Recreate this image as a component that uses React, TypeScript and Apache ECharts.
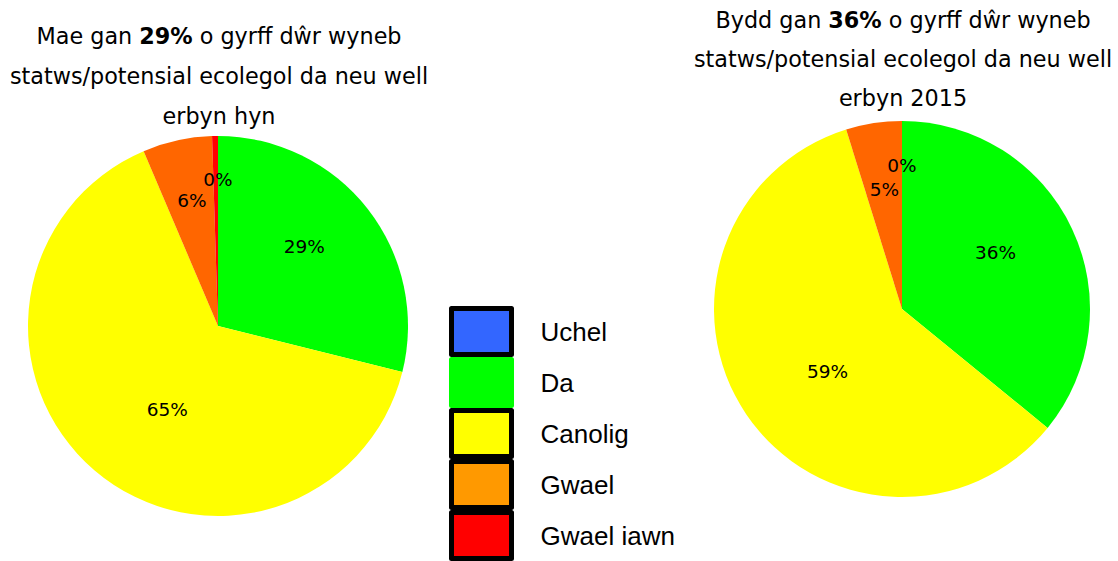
import React, { useEffect, useRef } from "react";
import * as echarts from "echarts";

const categories = ["Uchel", "Da", "Canolig", "Gwael", "Gwael iawn"];
const nowValues = [0, 28.9, 64.7, 5.9, 0.5];
const futureValues = [0, 35.9, 59.3, 4.8, 0];
const sliceColors = ["#3366FF", "#00FF00", "#FFFF00", "#FF6600", "#FF0000"];
const legendColors = ["#3366FF", "#00FF00", "#FFFF00", "#FF9900", "#FF0000"];
const showLabel = [true, true, true, true, false];
const leftOffsets = [[0, -49], [9, -19], [13, 9], [-5, -30], [0, 0]];
const rightOffsets = [[0, -47], [6, -15], [6, 8], [-3, -24], [0, 0]];

const titleFont = "DejaVu Sans";

function buildData(values: number[], offsets: number[][]) {
  return categories.map((name, i) => ({
    name,
    value: values[i],
    itemStyle: { color: sliceColors[i] },
    label: { show: showLabel[i], offset: offsets[i] },
  }));
}

function rich(lh: number) {
  return {
    n: { fontFamily: titleFont, fontSize: 22.3, fontWeight: "normal", color: "#000", lineHeight: lh },
    b: { fontFamily: titleFont, fontSize: 22.3, fontWeight: "bold", color: "#000", lineHeight: lh },
  };
}

export default function App() {
  const ref = useRef<HTMLDivElement>(null);
  useEffect(() => {
    if (!ref.current) return;
    const chart = echarts.init(ref.current, undefined, { renderer: "svg" });
    const labelCfg = {
      position: "inside",
      formatter: (p: any) => Math.round(p.value) + "%",
      color: "#000",
      fontFamily: titleFont,
      fontSize: 18.5,
    };
    chart.setOption({
      animation: false,
      title: [
        {
          text: "{n|Mae gan }{b|29%}{n| o gyrff dŵr wyneb}\n{n|statws/potensial ecolegol da neu well}\n{n|erbyn hyn}",
          left: 219,
          top: 16,
          padding: 0,
          textAlign: "center",
          textStyle: { fontWeight: "normal", rich: rich(40) },
        },
        {
          text: "{n|Bydd gan }{b|36%}{n| o gyrff dŵr wyneb}\n{n|statws/potensial ecolegol da neu well}\n{n|erbyn 2015}",
          left: 903,
          top: 0,
          padding: 0,
          textAlign: "center",
          textStyle: { fontWeight: "normal", rich: rich(39) },
        },
      ],
      legend: {
        orient: "vertical",
        left: 449,
        top: 306,
        height: 300,
        padding: 0,
        icon: "rect",
        itemWidth: 60,
        itemHeight: 46,
        itemGap: 0,
        selectedMode: false,
        textStyle: {
          fontFamily: "Liberation Sans",
          fontSize: 26,
          color: "#000",
          padding: [0, 0, 0, 24],
        },
        data: categories.map((name, i) => ({
          name,
          itemStyle: {
            color: legendColors[i],
            borderColor: i === 1 ? legendColors[i] : "#000",
            borderWidth: 5,
          },
        })),
      },
      series: [
        {
          type: "pie",
          center: [218, 326],
          radius: 190,
          startAngle: 90,
          clockwise: true,
          label: labelCfg,
          labelLine: { show: false },
          emphasis: { disabled: true },
          itemStyle: { borderWidth: 0 },
          data: buildData(nowValues, leftOffsets),
        },
        {
          type: "pie",
          center: [902, 309],
          radius: 188,
          startAngle: 90,
          clockwise: true,
          label: labelCfg,
          labelLine: { show: false },
          emphasis: { disabled: true },
          itemStyle: { borderWidth: 0 },
          data: buildData(futureValues, rightOffsets),
        },
      ],
    });
    return () => chart.dispose();
  }, []);
  return (
    <div
      ref={ref}
      style={{ position: "fixed", left: 0, top: 0, width: 1118, height: 561, background: "#fff" }}
    />
  );
}
